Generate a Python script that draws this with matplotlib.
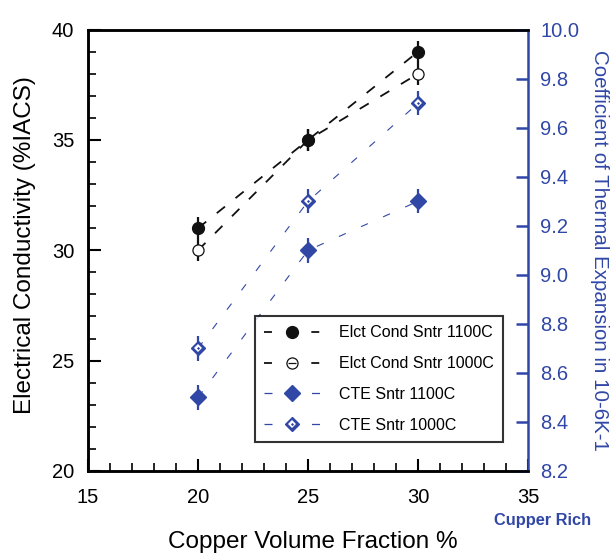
import numpy as np
import matplotlib.pyplot as plt
from matplotlib.ticker import MultipleLocator
from matplotlib.lines import Line2D

plt.rcParams['font.family'] = ['Liberation Sans', 'DejaVu Sans']

# === data ===
cu_fraction = [20, 25, 30]
cond_1100 = [31.0, 35.0, 39.0]
cond_1000 = [30.0, 35.0, 38.0]
cond_err = [0.5, 0.5, 0.5]
cte_1100 = [8.50, 9.10, 9.30]
cte_1000 = [8.70, 9.30, 9.70]
cte_err = [0.05, 0.05, 0.05]

labels = ['Elct Cond Sntr 1100C', 'Elct Cond Sntr 1000C',
          'CTE Sntr 1100C', 'CTE Sntr 1000C']

blue = '#3147a6'
black = '#111111'
black_ls = (0, (5.8, 7.5))
blue_ls = (0, (6.75, 15))

fig = plt.figure(figsize=(6.14, 5.58), dpi=100)
ax = fig.add_axes([0.1433, 0.156, 0.717, 0.791])
ax2 = ax.twinx()

# === conductivity (left axis) ===
ax.errorbar(cu_fraction, cond_1000, yerr=cond_err, color=black, marker='o', ms=8,
            mfc='white', mew=0.9, ls=black_ls, lw=1.3, elinewidth=1.6, capsize=0, zorder=2)
ax.errorbar(cu_fraction, cond_1100, yerr=cond_err, color=black, marker='o', ms=8.5,
            ls=black_ls, lw=1.3, elinewidth=1.6, capsize=0, zorder=3)

# === CTE (right axis) ===
ax2.errorbar(cu_fraction, cte_1100, yerr=cte_err, color=blue, marker='D', ms=8,
             ls=blue_ls, lw=0.8, elinewidth=1.6, capsize=0)
ax2.errorbar(cu_fraction, cte_1000, yerr=cte_err, color=blue, marker='D', ms=7.5,
             ls=blue_ls, lw=0.8, elinewidth=1.6, capsize=0)
# white inner diamond with blue centre for the 1000C points
ax2.plot(cu_fraction, cte_1000, ls='none', marker='D', ms=3.6, mfc='white', mew=0, zorder=5)
ax2.plot(cu_fraction, cte_1000, ls='none', marker='D', ms=1.6, mfc=blue, mew=0, zorder=6)

ax.set_xlim(15, 35)
ax.set_ylim(20, 40)
ax2.set_ylim(8.2, 10.0)

ax.xaxis.set_major_locator(MultipleLocator(5))
ax.xaxis.set_minor_locator(MultipleLocator(1))
ax.yaxis.set_major_locator(MultipleLocator(5))
ax.yaxis.set_minor_locator(MultipleLocator(1))
ax2.yaxis.set_major_locator(MultipleLocator(0.2))
ax2.yaxis.set_major_formatter(plt.FormatStrFormatter('%.1f'))

ax.tick_params(axis='x', which='major', direction='in', length=9, width=1.5,
               labelsize=14.5, pad=12, top=False)
ax.tick_params(axis='y', which='major', direction='in', length=9, width=1.5,
               labelsize=14.5, pad=10)
ax.tick_params(axis='both', which='minor', direction='in', length=6, width=1.2, top=False)
ax2.tick_params(axis='y', which='major', direction='in', length=9, width=1.8,
                colors=blue, labelsize=14.5, pad=8.5)

for s in ['left', 'bottom', 'top']:
    ax.spines[s].set_linewidth(1.8)
    ax2.spines[s].set_linewidth(1.8)
ax2.spines['right'].set_color(blue)
ax2.spines['right'].set_linewidth(1.8)
ax.spines['right'].set_visible(False)

# axis titles placed as figure text
fig.text(0.509, 0.018, 'Copper Volume Fraction %', fontsize=17.5, ha='center', va='baseline')
fig.text(0.041, 0.561, 'Electrical Conductivity (%IACS)', fontsize=17.5, rotation=90,
         ha='center', va='center')
fig.text(0.976, 0.552, 'Coefficient of Thermal Expansion in 10-6K-1', fontsize=14.8,
         color=blue, rotation=270, ha='center', va='center')
fig.text(0.883, 0.068, 'Cupper Rich', color=blue, fontsize=11.8, fontweight='bold',
         ha='center', va='center')

# === legend: short dash | marker | short dash ===
h_c1 = Line2D([], [], color=black, lw=1.3, ls=(0, (4.4, 21.8)), marker='o', ms=8.5)
h_c2 = Line2D([], [], color=black, lw=1.3, ls=(0, (4.4, 21.8)), marker='o', ms=8,
              mfc='white', mew=0.9)
h_c2bar = Line2D([], [], ls='none', marker='_', ms=6, mew=0.9, color=black)
h_t1 = Line2D([], [], color=blue, lw=0.9, ls=(0, (6.4, 31.6)), marker='D', ms=8)
h_t2 = Line2D([], [], color=blue, lw=0.9, ls=(0, (6.4, 31.6)), marker='D', ms=7.5)
h_t2w = Line2D([], [], ls='none', marker='D', ms=3.6, mfc='white', mew=0)
h_t2c = Line2D([], [], ls='none', marker='D', ms=1.6, mfc=blue, mew=0)

leg = ax2.legend([h_c1, (h_c2, h_c2bar), h_t1, (h_t2, h_t2w, h_t2c)], labels,
                 loc='lower right', bbox_to_anchor=(0.943, 0.066),
                 fontsize=11.5, frameon=True, fancybox=False, edgecolor='black',
                 handlelength=3.48, borderpad=0.55, labelspacing=1.0, handletextpad=1.25,
                 borderaxespad=0)
leg.get_frame().set_linewidth(1.5)

fig.savefig('out.png', dpi=100)
